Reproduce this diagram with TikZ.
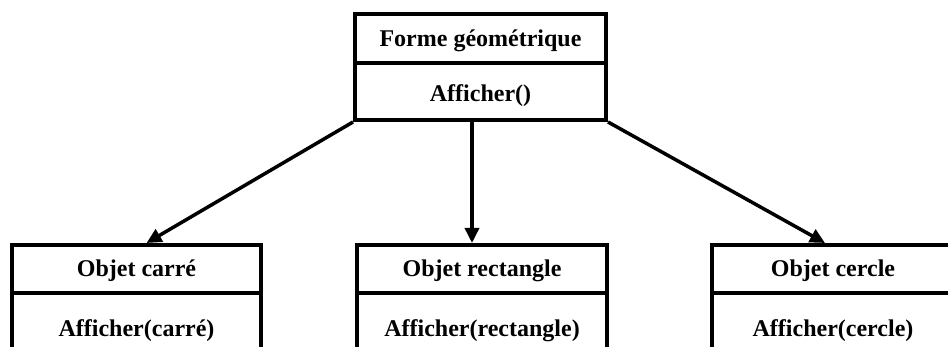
\documentclass[tikz,border=0pt]{standalone}
\usepackage{fontspec}
\setmainfont{Liberation Serif}
\usetikzlibrary{arrows.meta}
\begin{document}
\begin{tikzpicture}[x=1pt,y=1pt,
  box/.style={draw, line width=4pt, rectangle, inner sep=0pt, text depth=0pt,
    font=\fontsize{24}{28}\selectfont\bfseries},
  head/.style={box, minimum height=48pt, text height=16pt},
  ops/.style={box, minimum height=57pt, text height=20pt},
  arr/.style={line width=3.5pt, -{Triangle[length=15pt,width=14pt]}}]
  \useasboundingbox (0,0) rectangle (948,-347);
  \clip (0,0) rectangle (948,-347);

  % parent class
  \node[head, minimum width=251pt, minimum height=49pt] (forme) at (480.5,-38.5) {Forme géométrique};
  \node[ops, minimum width=251pt] (formeops) at (480.5,-91.5) {Afficher()};

  % derived objects
  \node[head, minimum width=249pt] (carre) at (136.5,-269) {Objet carré};
  \node[ops, minimum width=249pt, minimum height=67pt] (carreops) at (136.5,-326.5) {Afficher(carré)};

  \node[head, minimum width=250pt] (rect) at (482,-269) {Objet rectangle};
  \node[ops, minimum width=250pt, minimum height=67pt] (rectops) at (482,-326.5) {Afficher(rectangle)};

  \node[head, minimum width=242pt] (cercle) at (833,-269) {Objet cercle};
  \node[ops, minimum width=242pt, minimum height=67pt] (cercleops) at (833,-326.5) {Afficher(cercle)};

  % inheritance arrows
  \draw[arr] (formeops.south west) -- ([xshift=10pt]carre.north);
  \draw[arr] ([xshift=-10pt]rect.north |- formeops.south) -- ([xshift=-10pt]rect.north);
  \draw[arr] (formeops.south east) -- ([xshift=-8pt]cercle.north);
\end{tikzpicture}
\end{document}
